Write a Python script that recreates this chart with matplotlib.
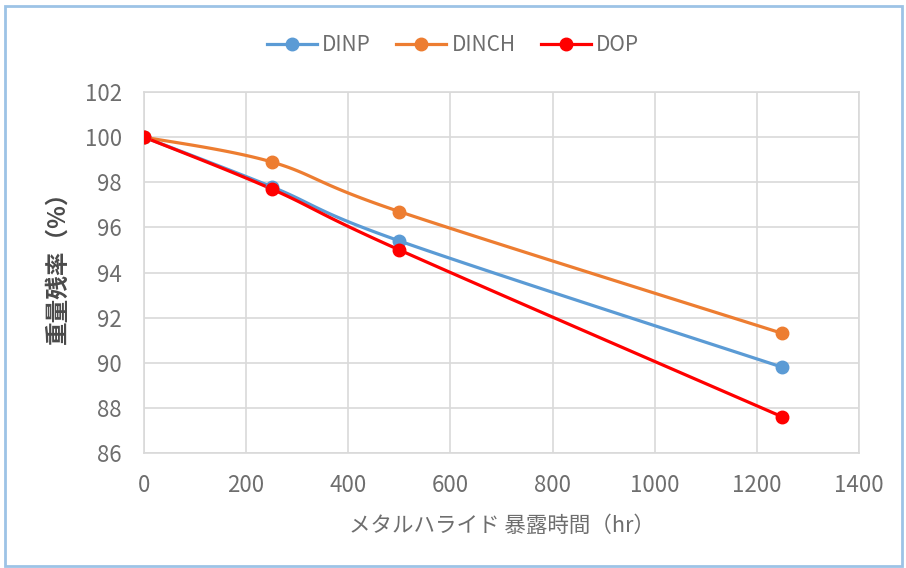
import numpy as np
import matplotlib
matplotlib.use("Agg")
import matplotlib.pyplot as plt
from matplotlib.patches import Rectangle
from matplotlib.lines import Line2D

plt.rcParams['font.family'] = ['Noto Sans CJK JP', 'DejaVu Sans']

hours = [0, 250, 500, 1250]
dinp = [100.0, 97.8, 95.4, 89.8]
dinch = [100.0, 98.9, 96.7, 91.3]
dop = [100.0, 97.7, 95.0, 87.6]

series = [
    ("DINP", dinp, "#5B9BD5"),
    ("DINCH", dinch, "#ED7D31"),
    ("DOP", dop, "#FF0000"),
]

xticks = [0, 200, 400, 600, 800, 1000, 1200, 1400]
yticks = [86, 88, 90, 92, 94, 96, 98, 100, 102]

TEXT = "#6E6E6E"


def smooth(x, y, n=40):
    """Catmull-Rom curve through the points (spreadsheet-style smoothed line)."""
    x = np.asarray(x, float)
    y = np.asarray(y, float)
    px = np.concatenate([[x[0]], x, [x[-1]]])
    py = np.concatenate([[y[0]], y, [y[-1]]])
    xs, ys = [], []
    t = np.linspace(0, 1, n)
    for i in range(1, len(px) - 2):
        p0x, p1x, p2x, p3x = px[i - 1:i + 3]
        p0y, p1y, p2y, p3y = py[i - 1:i + 3]
        c1x = p1x + (p2x - p0x) / 6
        c1y = p1y + (p2y - p0y) / 6
        c2x = p2x - (p3x - p1x) / 6
        c2y = p2y - (p3y - p1y) / 6
        bx = (1 - t) ** 3 * p1x + 3 * (1 - t) ** 2 * t * c1x + 3 * (1 - t) * t ** 2 * c2x + t ** 3 * p2x
        by = (1 - t) ** 3 * p1y + 3 * (1 - t) ** 2 * t * c1y + 3 * (1 - t) * t ** 2 * c2y + t ** 3 * p2y
        xs.append(bx)
        ys.append(by)
    return np.concatenate(xs), np.concatenate(ys)


fig = plt.figure(figsize=(9.06, 5.68), dpi=100)
ax = fig.add_axes([144 / 906, 1 - 453 / 568, (859 - 144) / 906, (453 - 92) / 568])

handles = []
for name, vals, col in series:
    sx, sy = smooth(hours, vals)
    ax.plot(sx, sy, color=col, lw=2.3, solid_capstyle='round', zorder=3)
    ax.plot(hours, vals, 'o', color=col, ms=9, zorder=4)
    handles.append(Line2D([], [], color=col, lw=2.3, marker='o', ms=9, label=name))

ax.set_xlim(0, 1400)
ax.set_ylim(86, 102)
ax.set_xticks(xticks)
ax.set_yticks(yticks)
ax.grid(True, color="#D9D9D9", lw=1.2)
ax.set_axisbelow(True)
for s in ax.spines.values():
    s.set_color("#D9D9D9")
    s.set_linewidth(1.2)
ax.tick_params(length=0, colors=TEXT, labelsize=16)
ax.tick_params(axis='y', pad=16)
ax.tick_params(axis='x', pad=15)

ax.set_xlabel("メタルハライド 暴露時間（hr）", fontsize=15.5, color=TEXT, labelpad=13)
ax.set_ylabel("重量残率（%）", fontsize=17, color="#4A4A4A", fontweight='bold', labelpad=10)
ax.yaxis.set_label_coords(-0.104, 0.53)

fig.legend(handles=handles, loc='center', bbox_to_anchor=(0.5, 1 - 45 / 568), ncol=3,
           frameon=False, fontsize=15, handlelength=2.4, columnspacing=1.2,
           handletextpad=0.25, labelcolor=TEXT)

fig.patches.append(Rectangle((5 / 906, 2 / 568), 897 / 906, 560 / 568, transform=fig.transFigure,
                             fill=False, edgecolor="#9DC3E6", lw=2))

fig.savefig("out.png", dpi=100, facecolor="white")
